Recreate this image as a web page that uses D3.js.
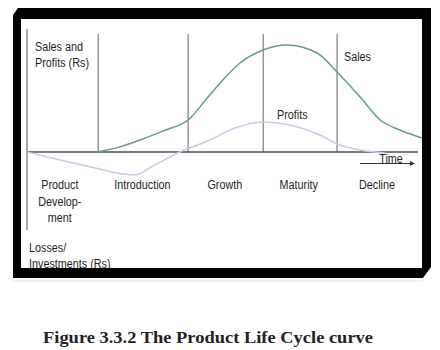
<!DOCTYPE html>
<html><head><meta charset="utf-8">
<script src="https://cdn.jsdelivr.net/npm/d3@7"></script>
<style>
html,body{margin:0;padding:0;background:#fff;}
svg{display:block;}
</style></head>
<body>
<svg id="c" width="440" height="350"></svg>
<script>
// ---- data ----
const salesTime   = [17.9, 24, 28.9, 35, 41.2, 46.3, 49.4, 54.5, 60.4, 66.5, 74.2, 79.3, 85.2, 90.3, 95.4, 101];
const salesValue  = [0, 5, 11.2, 20, 29.9, 51.4, 64.5, 83.2, 95.3, 100, 92.5, 74.8, 51.4, 29.9, 20.6, 13.1];
const profitTime  = [0, 8.4, 17.4, 24.5, 27.5, 32.7, 39.1, 46.8, 53.2, 60.4, 67.3, 74.9, 79.3, 85.2, 91.6];
const profitValue = [0, -7.5, -15, -20.5, -21.5, -12.1, 0, 11.2, 22.4, 28, 25.2, 15.9, 7.5, 1.9, -0.9];
const stageBounds = [18.2, 41.2, 60.4, 79.3];
const stageNames  = [["Product","Develop-","ment"], ["Introduction"], ["Growth"], ["Maturity"], ["Decline"]];
const stageCenters = [8.4, 29.5, 50.6, 69.5, 89.5];
const yAxisTitle  = ["Sales and", "Profits (Rs)"];
const lossTitle   = ["Losses/", "Investments (Rs)"];
const caption     = "Figure 3.3.2 The Product Life Cycle curve";

const svg = d3.select("#c");
const x = d3.scaleLinear().domain([0, 100]).range([27, 418]);
const y = d3.scaleLinear().domain([0, 100]).range([152, 45]);

const font = "'Liberation Sans', Arial, sans-serif";
function label(tx, ty, str, anchor) {
  svg.append("text")
    .attr("transform", `translate(${tx},${ty}) scale(0.8,1)`)
    .attr("text-anchor", anchor || "start")
    .attr("font-family", font).attr("font-size", 13.5)
    .attr("fill", "#1e1e1e").text(str);
}

// y-axis line
svg.append("line").attr("x1", 27).attr("x2", 27).attr("y1", 29).attr("y2", 230)
  .attr("stroke", "#8a8a8a").attr("stroke-width", 1.5);
// stage vertical lines
svg.selectAll("line.stage").data(stageBounds).enter().append("line")
  .attr("class", "stage")
  .attr("x1", d => x(d)).attr("x2", d => x(d))
  .attr("y1", 34).attr("y2", y(0))
  .attr("stroke", "#606060").attr("stroke-width", 1);
// baseline
svg.append("line").attr("x1", x(0)).attr("x2", x(100)).attr("y1", y(0)).attr("y2", y(0))
  .attr("stroke", "#505050").attr("stroke-width", 1.5);

// curves
const line = d3.line().curve(d3.curveMonotoneX).x(d => x(d[0])).y(d => y(d[1]));
svg.append("path").datum(d3.zip(profitTime, profitValue)).attr("d", line)
  .attr("fill", "none").attr("stroke", "#c9c9ea").attr("stroke-width", 1.5);
svg.append("path").datum(d3.zip(salesTime, salesValue)).attr("d", line)
  .attr("fill", "none").attr("stroke", "#5f9e8c").attr("stroke-width", 1.5);

// Time arrow
svg.append("line").attr("x1", 360).attr("x2", 412).attr("y1", 163.5).attr("y2", 163.5)
  .attr("stroke", "#333").attr("stroke-width", 1);
svg.append("path").attr("d", "M410,161 L415,163.5 L410,166 Z").attr("fill", "#333");
label(391, 163, "Time", "middle");

// labels
yAxisTitle.forEach((t, i) => label(35, 51 + i * 16, t));
label(344, 61, "Sales");
label(277, 119, "Profits");
stageNames.forEach((lines, i) => {
  lines.forEach((t, j) => label(x(stageCenters[i]), 189 + j * 16.5, t, "middle"));
});
lossTitle.forEach((t, i) => label(29, 252 + i * 16, t));

// frame
svg.append("path")
  .attr("d", "M18,8 L431,8 L431,267 L423,278 L13,278 L13,15 Z M21,19 L21,268 L422,268 L422,19 Z")
  .attr("fill", "#000").attr("fill-rule", "evenodd");
svg.append("line").attr("x1", 13).attr("x2", 423).attr("y1", 281).attr("y2", 281)
  .attr("stroke", "#e4e4e4").attr("stroke-width", 1);

// caption
svg.append("text").attr("x", 43).attr("y", 343)
  .attr("font-family", "'Liberation Serif', 'DejaVu Serif', serif")
  .attr("font-weight", "bold").attr("font-size", 17).attr("fill", "#222")
  .attr("textLength", 330).attr("lengthAdjust", "spacingAndGlyphs")
  .text(caption);
</script>
</body></html>
